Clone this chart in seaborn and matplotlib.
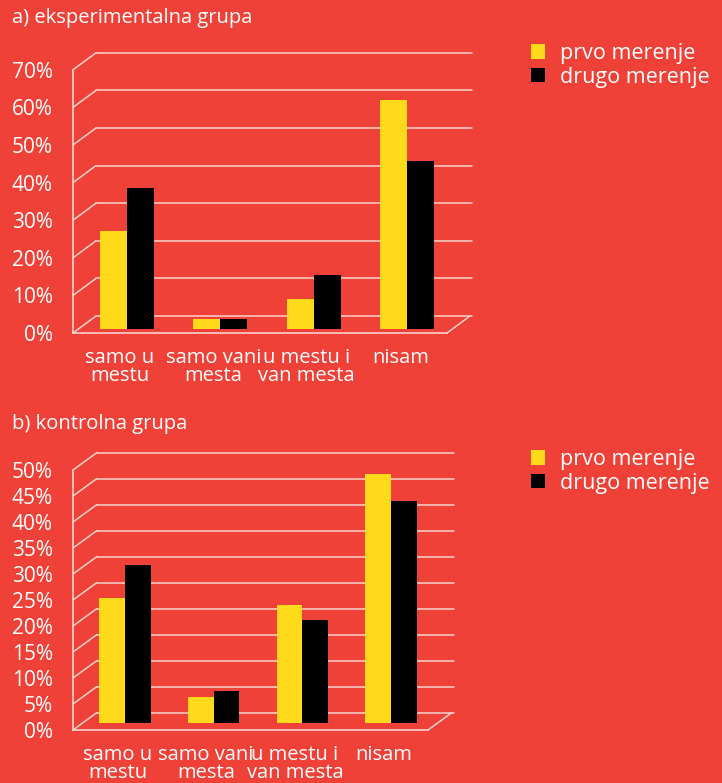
import numpy as np
import pandas as pd
import seaborn as sns
import matplotlib.pyplot as plt

# podaci (procenti)
kategorije = ['samo u\nmestu', 'samo vani\nmesta', 'u mestu i\nvan mesta', 'nisam']
merenja = ['prvo merenje', 'drugo merenje']
eksp_prvo = [26.0, 2.7, 8.0, 61.0]
eksp_drugo = [37.6, 2.7, 14.3, 44.6]
kontr_prvo = [24.1, 5.1, 22.8, 47.9]
kontr_drugo = [30.4, 6.2, 19.9, 42.8]

pozadina = '#EF4137'
boje = ['#FFDA1A', '#000000']
linija = '#F9D2CC'

W, H = 722, 783

sns.set_style('white')
plt.rcParams['font.family'] = ['Open Sans', 'DejaVu Sans']
plt.rcParams['font.size'] = 14.5


def napravi_df(prvo, drugo):
    return pd.DataFrame({
        'kategorija': kategorije * 2,
        'procenat': prvo + drugo,
        'merenje': [merenja[0]] * 4 + [merenja[1]] * 4,
    })


def panel(fig, df, naslov, naslov_y, leg_y, ymax, korak, x0, y0, x1, s, dubina, pomak):
    dx, dy = dubina
    bx, by = pomak
    w = x1 - x0
    h = ymax * s
    vrednosti = np.arange(0, ymax + korak / 2, korak)

    # zadnji zid
    ax_b = fig.add_axes([(x0 + dx) / W, (H - y0 + dy) / H, (w + 2) / W, h / H])
    ax_b.set_xlim(0, 1)
    ax_b.set_ylim(0, ymax)
    for v in vrednosti:
        ax_b.axhline(v, color=linija, lw=1.1, clip_on=False)
    ax_b.set_facecolor('none')
    ax_b.axis('off')

    # prednja osa
    ax_f = fig.add_axes([x0 / W, (H - y0) / H, w / W, h / H])
    ax_f.set_facecolor('none')
    ax_f.set_xlim(-0.5, 3.5)
    ax_f.set_ylim(0, ymax)
    for sp in ['top', 'right']:
        ax_f.spines[sp].set_visible(False)
    for sp in ['left', 'bottom']:
        ax_f.spines[sp].set_color(linija)
        ax_f.spines[sp].set_linewidth(1.2)
    ax_f.set_yticks(vrednosti)
    ax_f.set_yticklabels([f'{int(v)}%' for v in vrednosti], color='white', fontsize=15)
    ax_f.tick_params(axis='y', direction='out', length=6.5, width=1.8, color='white', pad=8)
    ax_f.set_xticks(range(4))
    ax_f.set_xticklabels(kategorije, color='white', linespacing=0.85)
    ax_f.set_xticks(np.arange(-0.5, 4, 1), minor=True)
    ax_f.tick_params(axis='x', which='major', length=0, pad=11)
    ax_f.tick_params(axis='x', which='minor', direction='out', length=7, width=1.8, color='white')

    # dijagonale
    for v in vrednosti:
        ax_f.annotate('', xy=(-0.5, v), xytext=(dx, dy), textcoords='offset pixels',
                      arrowprops=dict(arrowstyle='-', color=linija, lw=1.1, shrinkA=0, shrinkB=0),
                      annotation_clip=False)
    ax_f.annotate('', xy=(3.5, 0), xytext=(dx, dy), textcoords='offset pixels',
                  arrowprops=dict(arrowstyle='-', color=linija, lw=1.1, shrinkA=0, shrinkB=0),
                  annotation_clip=False)

    # stubici
    ax = fig.add_axes([(x0 + bx) / W, (H - y0 + by) / H, w / W, h / H])
    sns.barplot(data=df, x='kategorija', y='procenat', hue='merenje', palette=boje,
                width=0.58, saturation=1, linewidth=0, edgecolor='none', ax=ax)
    ax.set_xlim(-0.5, 3.5)
    ax.set_ylim(0, ymax)
    handles, labels = ax.get_legend_handles_labels()
    ax.get_legend().remove()
    for hnd in handles:
        hnd.set_edgecolor('none')
        hnd.set_linewidth(0)
    ax.set_facecolor('none')
    ax.axis('off')

    fig.legend(handles, labels, loc='upper left', bbox_to_anchor=(531 / W, 1 - leg_y / H),
               frameon=False, borderpad=0, borderaxespad=0, handlelength=0.65, handleheight=0.65,
               handletextpad=0.72, labelspacing=0.12, labelcolor='white', fontsize=15.5)

    fig.text(12 / W, 1 - naslov_y / H, naslov, color='white', va='center', ha='left', fontsize=14.5)


fig = plt.figure(figsize=(W / 100, H / 100), dpi=100, facecolor=pozadina)

panel(fig, napravi_df(eksp_prvo, eksp_drugo), 'a) eksperimentalna grupa', 18, 43,
      70, 10, 73, 333, 447, 3.76, (23, 17), (7, 4))
panel(fig, napravi_df(kontr_prvo, kontr_drugo), 'b) kontrolna grupa', 424, 449,
      50, 5, 73, 730, 428, 5.2, (24, 17.5), (7.5, 6.7))

fig.savefig('out.png', dpi=100, facecolor=pozadina)
